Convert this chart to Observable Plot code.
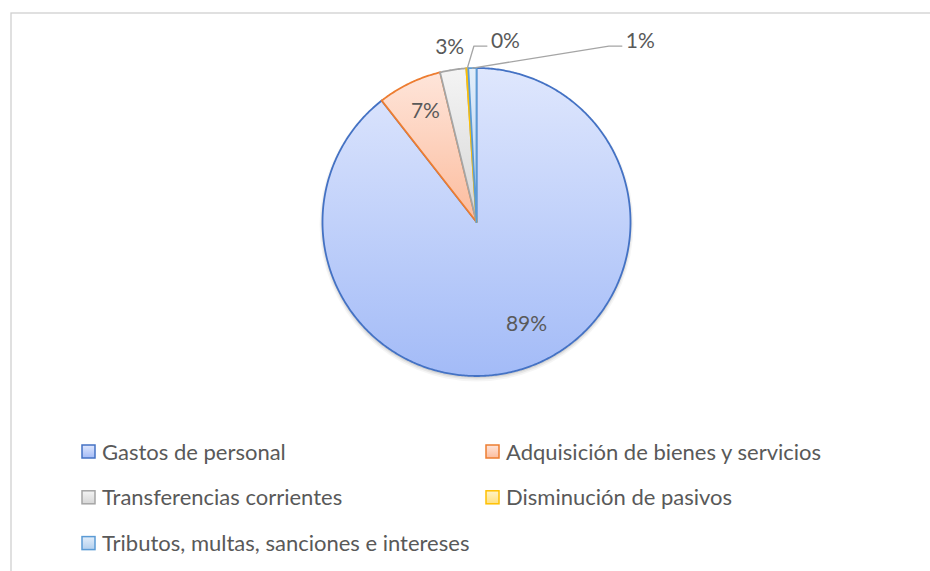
<!DOCTYPE html>
<html><head><meta charset="utf-8">
<script src="https://cdn.jsdelivr.net/npm/d3@7"></script>
<script src="https://cdn.jsdelivr.net/npm/@observablehq/plot@0.6"></script>
<style>
html,body{margin:0;padding:0;background:#fff;}
</style>
</head><body><div id="chart"></div>
<script>
// ---- data ----
const categories = [
  "Gastos de personal",
  "Adquisición de bienes y servicios",
  "Transferencias corrientes",
  "Disminución de pasivos",
  "Tributos, multas, sanciones e intereses"
];
const shares = [89.45, 6.75, 2.75, 0.2, 0.85];

// ---- styles ----
const strokeColors = ["#4472C4", "#ED7D31", "#A5A5A5", "#FFC000", "#5B9BD5"];
const gradientTop = ["#dfe7fd", "#fee5da", "#f4f4f4", "#fff3c8", "#e3eefa"];
const gradientBottom = ["#a3bbf7", "#fcbc9d", "#d6d6d6", "#ffe07f", "#b2cfee"];
const textColor = "#595959";
const font = "Lato, 'Open Sans', sans-serif";

// ---- layout ----
const W = 930, H = 571;
const cx = 476, cy = 221.5, R = 154;
// [angle offset from slice bisector (deg), radius factor]
const labelPlacement = [[-7.1, 0.738], [1, 0.79], [0, 1.149], [12.5, 1.19], [43.7, 1.585]];
const hasLeader = [false, false, false, true, true];
const legendCols = [82, 486], legendTop = 451.5, legendRowGap = 45.8, swatch = 13;

// ---- geometry from data ----
const arcs = d3.pie().sort(null).value(d => d)(shares);
const polar = (a, r) => [cx + r * Math.sin(a), cy - r * Math.cos(a)];

const slicePts = [];
arcs.forEach((p, i) => {
  const n = Math.max(2, Math.ceil((p.endAngle - p.startAngle) / 0.01));
  const pts = [[cx, cy]];
  for (let k = 0; k <= n; k++) pts.push(polar(p.startAngle + (p.endAngle - p.startAngle) * k / n, R));
  pts.push([cx, cy]);
  pts.forEach(([x, y]) => slicePts.push({x, y, i}));
});
const sliceMarks = arcs.map((p, i) =>
  Plot.line(slicePts.filter(d => d.i === i), {x: "x", y: "y", fill: `url(#g${i})`, stroke: strokeColors[i],
    strokeWidth: 1.8, strokeLinejoin: "miter", strokeMiterlimit: 4})
);

const labels = arcs.map((p, i) => {
  const mid = (p.startAngle + p.endAngle) / 2;
  const a = mid + labelPlacement[i][0] * Math.PI / 180;
  const [x, y] = polar(a, R * labelPlacement[i][1]);
  return {x, y, mid, i, text: d3.format(".0%")(shares[i] / 100)};
});

const leaders = [];
labels.forEach(l => {
  if (!hasLeader[l.i]) return;
  const [sx, sy] = polar(l.mid, R);
  leaders.push({x: sx, y: sy, i: l.i});
  leaders.push({x: l.x - 31.5, y: l.y + 5, i: l.i});
  leaders.push({x: l.x - 18.5, y: l.y + 5, i: l.i});
});

const legend = categories.map((c, i) => {
  const col = i % 2, row = Math.floor(i / 2);
  const sx = legendCols[col], yc = legendTop + row * legendRowGap;
  return {c, i, x1: sx, x2: sx + swatch, y1: yc - swatch / 2, y2: yc + swatch / 2, tx: sx + 19.5, ty: yc + 0.5};
});

const center = [{x: cx, y: cy}];

const chart = Plot.plot({
  width: W, height: H,
  marginTop: 0, marginRight: 0, marginBottom: 0, marginLeft: 0,
  x: {domain: [0, W], range: [0, W], axis: null},
  y: {domain: [0, H], range: [0, H], axis: null},
  style: {background: "#fff", fontFamily: font},
  marks: [
    Plot.frame({stroke: "#d0d0d0", strokeWidth: 1.3, insetLeft: 10.5, insetTop: 12.5, insetRight: -5, insetBottom: -5}),
    // soft shadow under the pie
    Plot.dot(center, {x: "x", y: "y", r: R + 3, fill: "#000", fillOpacity: 0.04, dy: 2.5, stroke: null}),
    Plot.dot(center, {x: "x", y: "y", r: R + 1.8, fill: "#000", fillOpacity: 0.06, dy: 2, stroke: null}),
    Plot.dot(center, {x: "x", y: "y", r: R + 0.8, fill: "#000", fillOpacity: 0.08, dy: 1.5, stroke: null}),
    ...sliceMarks,
    Plot.line(leaders, {x: "x", y: "y", z: "i", stroke: "#a5a5a5", strokeWidth: 1.3, strokeLinejoin: "miter"}),
    Plot.text(labels, {x: "x", y: "y", text: "text", fill: textColor, fontSize: 21, fontFamily: font}),
    ...legend.map(d => Plot.rect([d], {x1: "x1", x2: "x2", y1: "y1", y2: "y2",
      fill: `url(#g${d.i})`, stroke: strokeColors[d.i], strokeWidth: 1.5})),
    Plot.text(legend, {x: "tx", y: "ty", text: "c", textAnchor: "start", fill: textColor, fontSize: 22, fontFamily: font})
  ]
});

// gradient definitions
const svg = d3.select(chart);
const defs = svg.insert("defs", ":first-child");
strokeColors.forEach((_, i) => {
  const g = defs.append("linearGradient").attr("id", `g${i}`).attr("x1", 0).attr("y1", 0).attr("x2", 0).attr("y2", 1);
  g.append("stop").attr("offset", "0%").attr("stop-color", gradientTop[i]);
  g.append("stop").attr("offset", "100%").attr("stop-color", gradientBottom[i]);
});
document.getElementById("chart").appendChild(chart);
</script>
</body></html>
